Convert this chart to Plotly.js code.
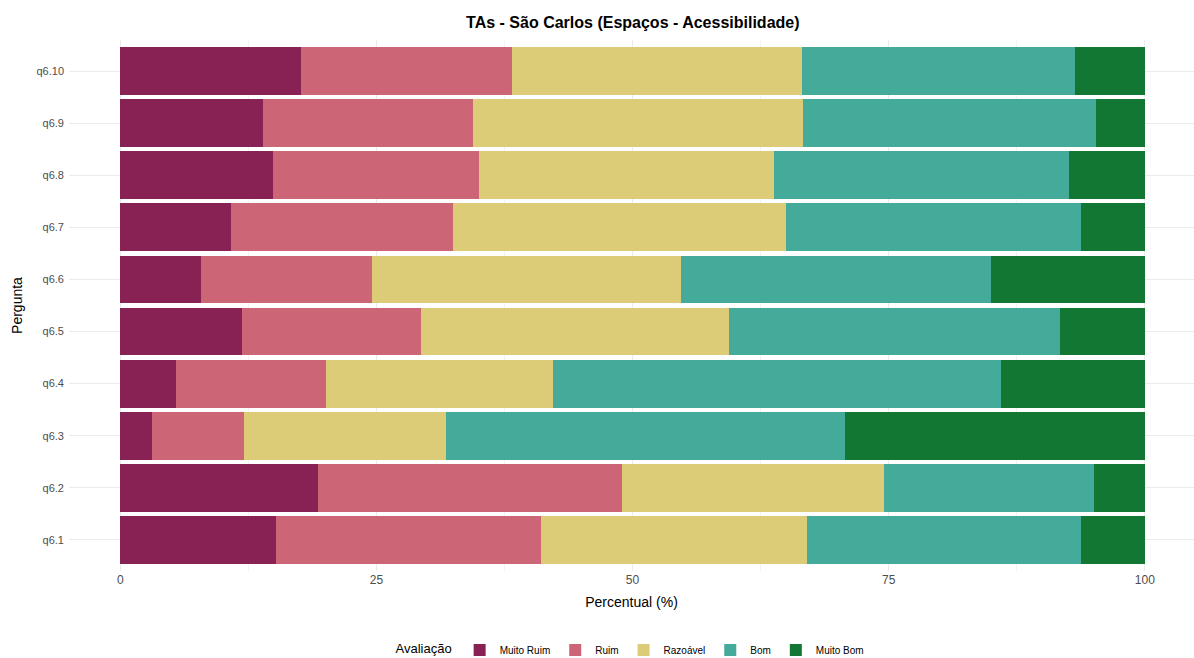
<!DOCTYPE html>
<html>
<head>
<meta charset="utf-8">
<script src="https://cdn.plot.ly/plotly-3.0.1.min.js"></script>
<style>html,body{margin:0;padding:0;background:#fff;}#chart{width:1194px;height:658px;}</style>
</head>
<body>
<div id="chart"></div>
<script>
const categories = ['q6.1','q6.2','q6.3','q6.4','q6.5','q6.6','q6.7','q6.8','q6.9','q6.10'];
const muitoRuim = [15.2, 19.3, 3.1, 5.4, 11.9, 7.9, 10.8, 14.9, 13.9, 17.6];
const ruim      = [25.9, 29.7, 9.0, 14.7, 17.5, 16.7, 21.7, 20.1, 20.5, 20.6];
const razoavel  = [25.9, 25.5, 19.7, 22.1, 30.0, 30.1, 32.5, 28.8, 32.2, 28.3];
const bom       = [26.8, 20.5, 38.9, 43.8, 32.3, 30.3, 28.8, 28.8, 28.6, 26.7];
const muitoBom  = [6.2, 5.0, 29.3, 14.0, 8.3, 15.0, 6.2, 7.4, 4.8, 6.8];
const seriesNames = ['Muito Ruim','Ruim','Razoável','Bom','Muito Bom'];
const seriesColors = ['#882255','#CC6677','#DDCC77','#44AA99','#117733'];
const seriesValues = [muitoRuim, ruim, razoavel, bom, muitoBom];

const traces = seriesValues.map((vals, i) => ({
  type: 'bar',
  orientation: 'h',
  name: seriesNames[i],
  y: categories,
  x: vals,
  marker: {color: seriesColors[i], line: {width: 0}},
  width: 0.92,
  hoverinfo: 'x+y+name'
}));

const layout = {
  width: 1194, height: 658,
  barmode: 'stack',
  paper_bgcolor: '#fff', plot_bgcolor: '#fff',
  margin: {l: 69, r: 0, t: 40, b: 87, autoexpand: false},
  font: {family: 'Liberation Sans, Arial, sans-serif', color: '#4d4d4d'},
  title: {text: '<b>TAs - São Carlos (Espaços - Acessibilidade)</b>', x: 0.53, xanchor: 'center', y: 0.966, yanchor: 'middle', font: {size: 16, color: '#000'}},
  xaxis: {
    range: [-5, 104.8],
    tickvals: [0, 25, 50, 75, 100],
    ticktext: ['0','25','50','75','100'],
    tickfont: {size: 12, color: '#4d4d4d'},
    showgrid: true, gridcolor: '#ebebeb', gridwidth: 1,
    minor: {tickvals: [12.5, 37.5, 62.5, 87.5], showgrid: true, gridcolor: '#f3f3f3', gridwidth: 1},
    zeroline: false, showline: false, ticks: '',
    title: {text: 'Percentual (%)', font: {size: 14, color: '#000'}, standoff: 11}
  },
  yaxis: {
    type: 'category',
    categoryorder: 'array', categoryarray: categories,
    range: [-0.6, 9.6],
    tickfont: {size: 11, color: '#4d4d4d'},
    showgrid: true, gridcolor: '#ebebeb', gridwidth: 1,
    zeroline: false, showline: false, ticks: '', ticklabelstandoff: 4,
    title: {text: 'Pergunta', font: {size: 14, color: '#000'}, standoff: 10}
  },
  showlegend: true,
  legend: {
    orientation: 'h', x: 0.5, xanchor: 'center', yref: 'paper', y: -0.149, yanchor: 'middle',
    title: {text: 'Avaliação', font: {size: 13, color: '#000'}, side: 'left'},
    font: {size: 10, color: '#000'},
    traceorder: 'normal', itemwidth: 30
  }
};

Plotly.newPlot('chart', traces, layout, {displayModeBar: false, staticPlot: true});
</script>
</body>
</html>
